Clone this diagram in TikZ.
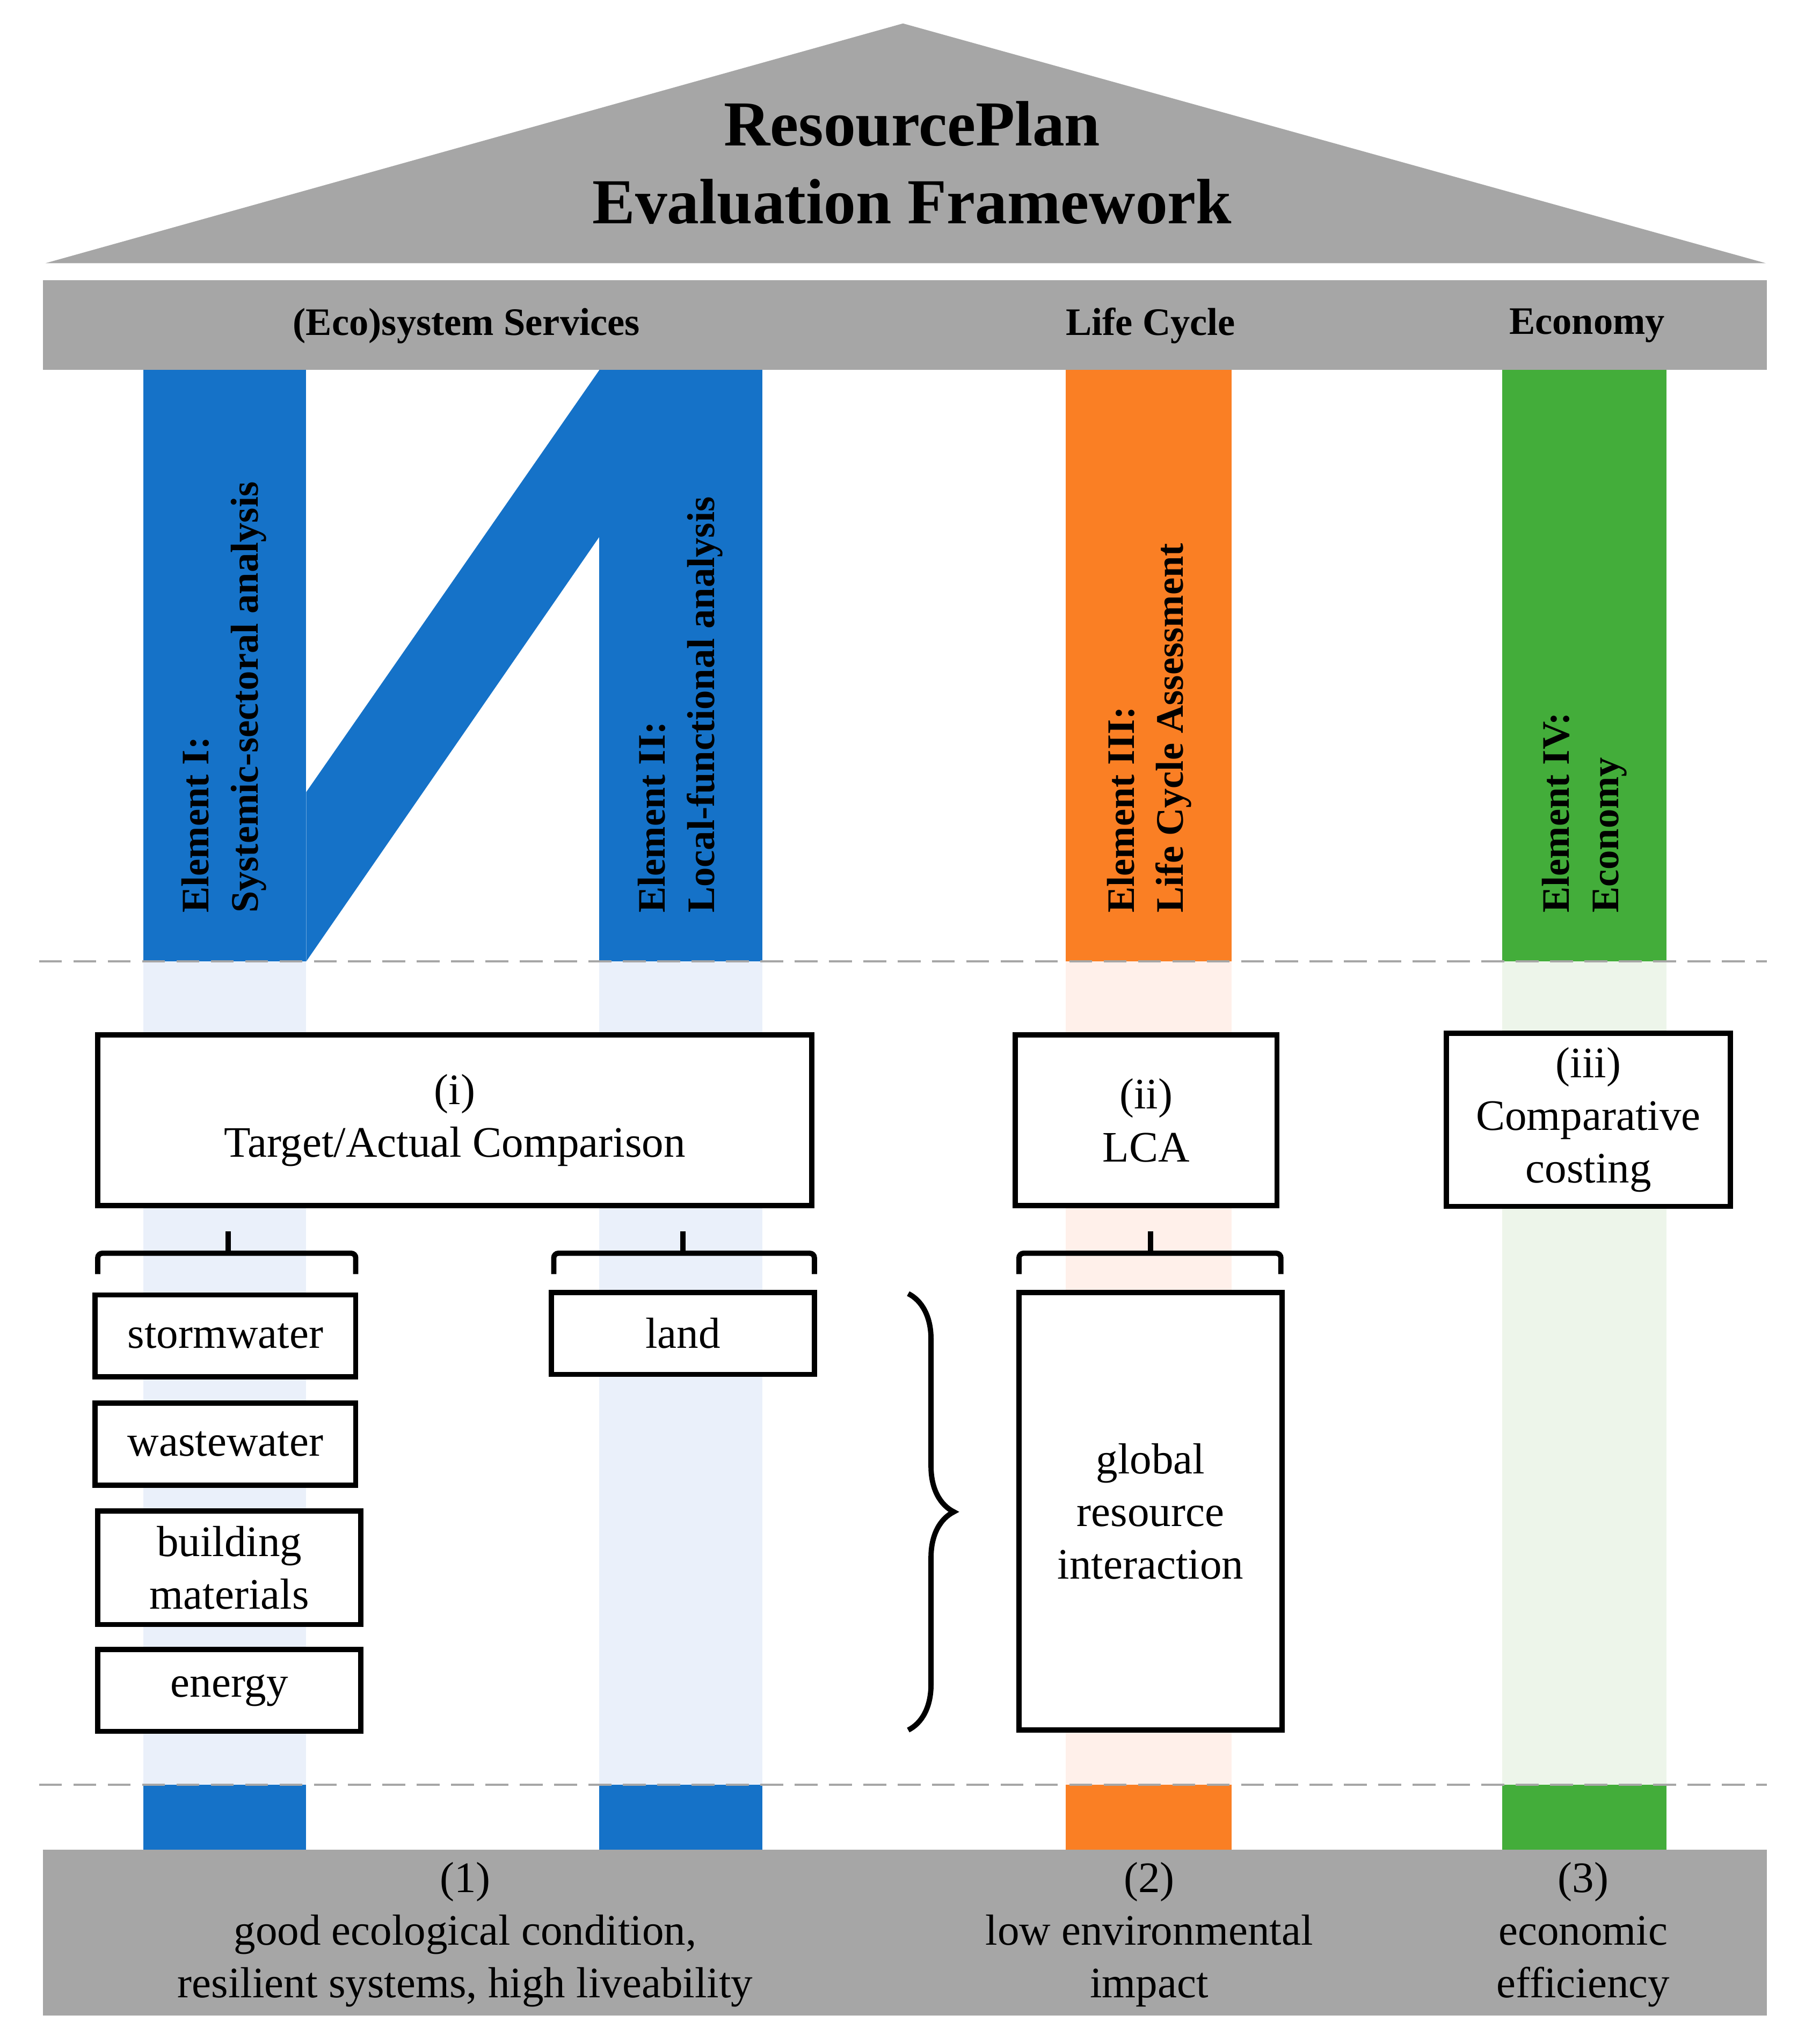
\documentclass[tikz,border=0pt]{standalone}
\usepackage{fontspec}
\setmainfont{Liberation Serif}
\usetikzlibrary{decorations.pathreplacing}
\definecolor{gr}{HTML}{A6A6A6}
\definecolor{bl}{HTML}{1572C8}
\definecolor{orr}{HTML}{FA7F24}
\definecolor{gn}{HTML}{43AD3A}
\definecolor{lbl}{HTML}{EAF0FA}
\definecolor{lor}{HTML}{FFF0EA}
\definecolor{lgn}{HTML}{EDF5EA}
\tikzset{
  px/.style={x=0.02cm,y=-0.02cm},
  bx/.style={draw,line width=2.3pt,fill=white},
  txt/.style={font=\fontsize{19}{23}\selectfont,align=center},
  hd/.style={font=\fontsize{17}{20}\selectfont\bfseries},
  vt/.style={font=\fontsize{17}{21.5}\selectfont\bfseries,rotate=90,anchor=west,align=left},
  brk/.style={line width=2.3pt,rounded corners=2pt},
}
\begin{document}
\begin{tikzpicture}[px]
\useasboundingbox (0,0) rectangle (1385,1569);
% light bands
\fill[lbl] (110,738) rectangle (235,1370);
\fill[lbl] (460,738) rectangle (585,1370);
\fill[lor] (818,738) rectangle (945,1370);
\fill[lgn] (1153,738) rectangle (1279,1370);
% roof and beam
\fill[gr] (35,202) -- (693,18) -- (1355,202) -- cycle;
\node[font=\fontsize{28}{34}\selectfont\bfseries,align=center] (title) at (700,125) {ResourcePlan\\Evaluation Framework};
\fill[gr] (33,215) rectangle (1356,284);
\node[hd] (c1) at (358,250) {(Eco)system Services};
\node[hd] (c2) at (883,250) {Life Cycle};
\node[hd] (c3) at (1218,250) {Economy};
% pillars
\fill[bl] (110,284) rectangle (235,738);
\fill[bl] (460,284) rectangle (585,738);
\fill[bl] (235,738) -- (460,412) -- (460,284) -- (235,608) -- cycle;
\fill[orr] (818,284) rectangle (945,738);
\fill[gn] (1153,284) rectangle (1279,738);
\fill[bl] (110,1370) rectangle (235,1420);
\fill[bl] (460,1370) rectangle (585,1420);
\fill[orr] (818,1370) rectangle (945,1420);
\fill[gn] (1153,1370) rectangle (1279,1420);
\node[vt] (e1) at (172,707) {Element I:\\Systemic-sectoral analysis};
\node[vt] (e2) at (522,707) {Element II:\\Local-functional analysis};
\node[vt] (e3) at (882,707) {Element III:\\Life Cycle Assessment};
\node[vt] (e4) at (1216,707) {Element IV:\\Economy};
% dashed
\draw[gr,dashed,line width=1pt,dash pattern=on 10pt off 5pt] (30,738) -- (1356,738);
\draw[gr,dashed,line width=1pt,dash pattern=on 10pt off 5pt] (30,1370) -- (1356,1370);
% base
\fill[gr] (33,1420) rectangle (1356,1547);
\node[txt] (b1) at (357,1485) {(1)\\good ecological condition,\\resilient systems, high liveability};
\node[txt] (b2) at (882,1485) {(2)\\low environmental\\impact};
\node[txt] (b3) at (1215,1485) {(3)\\economic\\efficiency};
% boxes
\node[bx,txt,minimum width=548*0.02cm,minimum height=131*0.02cm] (i) at (349,860) {(i)\\Target/Actual Comparison};
\node[bx,txt,minimum width=201*0.02cm,minimum height=131*0.02cm] (ii) at (879.5,860) {(ii)\\LCA};
\node[bx,txt,minimum width=218*0.02cm,minimum height=133*0.02cm] (iii) at (1219,859.5) {(iii)\\Comparative\\costing};
\node[bx,txt,minimum width=200*0.02cm,minimum height=63*0.02cm] (sw) at (173,1025.5) {stormwater};
\node[bx,txt,minimum width=200*0.02cm,minimum height=63*0.02cm] (ww) at (173,1108.5) {wastewater};
\node[bx,txt,minimum width=202*0.02cm,minimum height=87*0.02cm] (bm) at (176,1203.5) {building\\materials};
\node[bx,txt,minimum width=202*0.02cm,minimum height=63*0.02cm] (en) at (176,1297.5) {energy};
\node[bx,txt,minimum width=202*0.02cm,minimum height=63*0.02cm] (la) at (524,1023.5) {land};
\node[bx,txt,minimum width=202*0.02cm,minimum height=336*0.02cm] (gl) at (883,1160) {global\\resource\\interaction};
% brackets
\draw[brk] (75,978) -- (75,962) -- (273,962) -- (273,978);
\draw[brk] (175,962) -- (175,945);
\draw[brk] (425,978) -- (425,962) -- (625,962) -- (625,978);
\draw[brk] (524,962) -- (524,945);
\draw[brk] (782,978) -- (782,962) -- (983,962) -- (983,978);
\draw[brk] (883,962) -- (883,945);
\coordinate (bt) at (697,993);
\coordinate (bb) at (697,1328);
\draw[line width=2.3pt,decorate,decoration={brace,amplitude=0.7cm}] (bt) -- (bb);
\end{tikzpicture}
\end{document}
